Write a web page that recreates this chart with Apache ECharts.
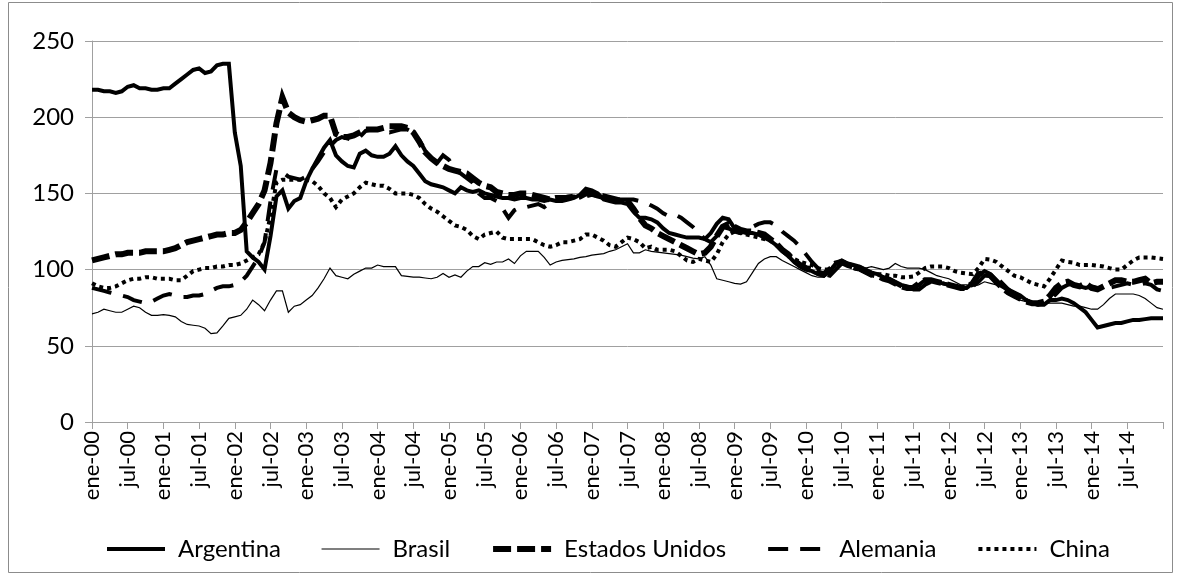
<!DOCTYPE html>
<html>
<head>
<meta charset="utf-8">
<script src="https://cdn.jsdelivr.net/npm/echarts@6/dist/echarts.min.js"></script>
<style>
  html, body { margin: 0; padding: 0; background: #fff; }
  #chart { width: 1181px; height: 580px; }
</style>
</head>
<body>
<div id="chart"></div>
<script>
// meses y años para las categorías (ene-00 ... ene-15)
const monthNames = ["ene", "feb", "mar", "abr", "may", "jun", "jul", "ago", "sep", "oct", "nov", "dic"];
const years = ["00", "01", "02", "03", "04", "05", "06", "07", "08", "09", "10", "11", "12", "13", "14", "15"];

const yTicks = [0, 50, 100, 150, 200, 250];

// una fila por año (12 meses), último valor = ene-15
const argentina = [
  218, 218, 217, 217, 216, 217, 220, 221, 219, 219, 218, 218,
  219, 219, 222, 225, 228, 231, 232, 229, 230, 234, 235, 235,
  190, 168, 112, 108, 105, 100, 122, 148, 152, 140, 145, 147,
  158, 166, 173, 180, 185, 175, 171, 168, 167, 176, 178, 175,
  174, 174, 176, 181, 175, 171, 168, 163, 158, 156, 155, 154,
  152, 150, 154, 152, 151, 152, 150, 149, 148, 147, 147, 146,
  147, 147, 146, 146, 145, 146, 145, 145, 146, 147, 149, 153,
  152, 150, 146, 145, 144, 144, 143, 138, 134, 134, 133, 131,
  127, 124, 123, 122, 121, 121, 121, 120, 124, 130, 134, 133,
  127, 125, 124, 124, 123, 121, 119, 116, 112, 109, 105, 102,
  100, 99, 97, 96, 99, 104, 106, 104, 103, 102, 100, 98,
  97, 95, 94, 92, 90, 89, 88, 90, 93, 93, 92, 91,
  90, 89, 88, 88, 91, 96, 99, 97, 93, 89, 87, 85,
  83, 80, 78, 77, 77, 80, 80, 81, 80, 78, 75, 72,
  67, 62, 63, 64, 65, 65, 66, 67, 67, 67.5, 68, 68,
  68
];

const brasil = [
  71, 72, 74, 73, 72, 72, 74, 76, 75, 72, 70, 70,
  70.5, 70, 69, 66, 64, 63.5, 63, 61.5, 58, 58.5, 63, 68,
  69, 70, 74, 80, 77, 73, 80, 86, 86, 72, 76, 77,
  80, 83, 88, 94, 101, 96, 95, 94, 97, 99, 101, 101,
  103, 102, 102, 102, 96, 95.5, 95, 95, 94.5, 94, 95, 97.5,
  95, 96.5, 95, 99, 102, 102, 104.5, 103.5, 105, 105, 107, 104,
  109, 112, 112, 112, 108, 103, 105, 106, 106.5, 107, 108, 108.5,
  109.5, 110, 110.5, 112, 113, 115, 117, 111, 111, 113, 112, 111.5,
  111, 110.5, 110, 109.5, 108.5, 107.5, 107, 108.5, 103, 94, 93, 92,
  91, 90.5, 92, 98, 104, 107, 108.5, 108.5, 106, 104, 102, 100,
  98, 96, 95, 95, 98, 103, 104, 103, 102, 102, 101, 102,
  101, 100, 101, 104, 102, 101, 101, 101, 100, 98, 96, 95,
  94, 92, 90, 90, 89, 90, 92, 91, 90, 88, 85, 82,
  80, 79, 78, 78, 78, 78, 78, 78, 77, 76, 76, 75,
  74, 74, 77, 81, 84, 84, 84, 84, 83, 81, 78, 75,
  74
];

const estadosUnidos = [
  106, 107, 108, 109, 110, 110, 111, 111, 111, 112, 112, 112,
  112, 113, 114, 116, 118, 119, 120, 121, 122, 123, 123, 124,
  124, 126, 131, 137, 143, 152, 170, 196, 213, 203, 200, 198,
  197, 198, 199, 201, 201, 189, 187, 187, 188, 190, 192, 192,
  192, 193, 194, 194, 194, 193, 190, 184, 177, 173, 170, 168,
  166, 165, 164, 163, 160, 157, 155, 154, 151, 150, 149, 149,
  150, 150, 149, 148, 147, 146, 147, 147, 147, 148, 148, 150,
  150, 149, 148, 147, 146, 145, 145, 140, 134, 129, 127, 124,
  122, 120, 118, 116, 114, 112, 110, 111, 115, 122, 128, 130,
  128, 126, 125, 125, 124, 123, 120, 117, 113, 110, 106, 103,
  101, 100, 98, 97, 100, 104, 105, 103, 102, 101, 99, 97,
  96, 94, 93, 91, 89, 88, 88, 91, 93, 93, 92, 91,
  90, 89, 88, 88, 91, 97, 98, 96, 92, 88, 85, 83,
  81, 79, 78, 78, 79, 83, 88, 91, 92, 90, 89, 91,
  88, 87, 89, 91, 93, 93, 92, 92, 93, 94, 91, 92,
  92
];

const alemania = [
  88, 87, 86, 85, 84, 83, 82, 80, 79, 78, 79, 81,
  83, 84, 83, 82, 82, 83, 83, 84, 86, 88, 89, 89,
  90, 92, 96, 102, 108, 118, 145, 166, 164, 161, 160, 159,
  161, 166, 171, 177, 181, 185, 187, 186, 185, 187, 191, 192,
  192, 191, 190, 191, 192, 192, 190, 185, 178, 171, 170, 175,
  172, 166, 163, 160, 157, 150, 147, 147, 145, 140, 134, 139,
  141, 141, 142, 143, 141, 144, 146, 147, 148, 148, 147, 148,
  149, 148, 147, 147, 146, 146, 146, 146, 145, 144, 142, 140,
  137, 135, 136, 134, 131, 128, 124, 120, 118, 122, 128, 127,
  125, 124, 126, 128, 130, 131, 131, 129, 125, 122, 119, 115,
  110, 105, 101, 97, 96, 100, 104, 103, 101, 100, 98, 96,
  96, 94, 93, 91, 89, 88, 87, 87, 90, 92, 92, 91,
  90, 89, 88, 88, 89, 92, 96, 96, 95, 91, 87, 84,
  82, 80, 78, 77, 78, 80, 84, 88, 90, 91, 89, 88,
  89, 88, 87, 88, 89, 90, 91, 90, 90, 91, 90, 87,
  86
];

const china = [
  91, 89, 88, 88, 89, 91, 93, 94, 94, 95, 95, 94,
  94, 94, 93, 93, 96, 99, 100, 101, 101, 102, 102, 103,
  103, 104, 106, 108, 110, 118, 135, 157, 159, 159, 159, 159,
  159, 158, 155, 150, 147, 141, 146, 148, 150, 154, 157, 156,
  155, 155, 153, 150, 150, 150, 149, 147, 143, 140, 138, 135,
  132, 129, 128, 126, 122, 120, 123, 124, 125, 121, 120, 120,
  120, 120, 120, 118, 116, 115, 116, 118, 118, 119, 120, 123,
  123, 121, 119, 116, 115, 118, 121, 120, 118, 114, 115, 113,
  113, 113, 112, 109, 106, 105, 107, 106, 105, 110, 118, 123,
  125, 124, 123, 122, 121, 120, 119, 116, 113, 110, 107, 105,
  104, 103, 101, 100, 100, 103, 104, 103, 101, 100, 99, 98,
  97, 97, 96, 96, 95, 95, 95.5, 98, 101, 102, 102, 102,
  101, 99, 98, 97.5, 97, 101, 107, 106.5, 105, 102, 99, 96,
  95, 93, 91, 90, 89, 94, 100, 106, 105, 104.5, 103, 103,
  103, 102.5, 102, 101, 100, 100, 103, 106, 108, 108, 108, 107.5,
  107
];

const categories = [];
years.forEach(function (y) {
  monthNames.forEach(function (m) { categories.push(m + "-" + y); });
});
categories.length = argentina.length; // hasta ene-15

const FONT = "Lato";

// estilo de cada serie: [nombre, datos, grosor, tipo de trazo]
const estilos = [
  ["Argentina", argentina, 4, "solid"],
  ["Brasil", brasil, 1.2, "solid"],
  ["Estados Unidos", estadosUnidos, 6, [18, 6]],
  ["Alemania", alemania, 4, [20, 12]],
  ["China", china, 4, [4, 4]]
];

const chart = echarts.init(document.getElementById("chart"), null, { renderer: "canvas" });

chart.setOption({
  animation: false,
  backgroundColor: "#fff",
  color: ["#000"],
  textStyle: { fontFamily: FONT },
  graphic: [{
    type: "rect",
    shape: { x: 8.5, y: 2.5, width: 1164, height: 570 },
    style: { fill: "none", stroke: "#8c8c8c", lineWidth: 1 },
    silent: true
  }],
  grid: { left: 92, right: 18, top: 41, bottom: 158, containLabel: false },
  legend: {
    left: 100,
    top: 532,
    itemWidth: 58,
    itemHeight: 20,
    itemGap: 40,
    itemStyle: { opacity: 0 },
    textStyle: { fontFamily: FONT, fontSize: 24, color: "#000", padding: [0, 0, 0, 8] },
    data: estilos.map(function (e) {
      return { name: e[0], lineStyle: { color: "#000", width: e[2], type: e[3], cap: "butt" } };
    })
  },
  xAxis: {
    type: "category",
    data: categories,
    boundaryGap: false,
    axisLine: { lineStyle: { color: "#a0a0a0", width: 1 } },
    axisTick: {
      alignWithLabel: true,
      length: 7,
      lineStyle: { color: "#a0a0a0" },
      interval: function (i) { return i % 6 === 0; }
    },
    axisLabel: {
      rotate: 90,
      fontFamily: FONT,
      fontSize: 22,
      color: "#000",
      margin: 9,
      interval: function (i) { return i % 6 === 0 && i < 180; }
    },
    splitLine: { show: false }
  },
  yAxis: {
    type: "value",
    min: yTicks[0],
    max: yTicks[yTicks.length - 1],
    interval: 50,
    axisLine: { show: true, lineStyle: { color: "#a0a0a0", width: 1 } },
    axisTick: { show: true, length: 7, lineStyle: { color: "#a0a0a0" } },
    axisLabel: { fontFamily: FONT, fontSize: 24, color: "#000", margin: 18 },
    splitLine: { lineStyle: { color: "#a0a0a0", width: 1 } }
  },
  series: estilos.map(function (e) {
    return {
      name: e[0],
      type: "line",
      data: e[1],
      showSymbol: false,
      symbol: "none",
      itemStyle: { color: "#000" },
      lineStyle: { color: "#000", width: e[2], type: e[3], cap: "butt", join: "miter" }
    };
  })
});
</script>
</body>
</html>
